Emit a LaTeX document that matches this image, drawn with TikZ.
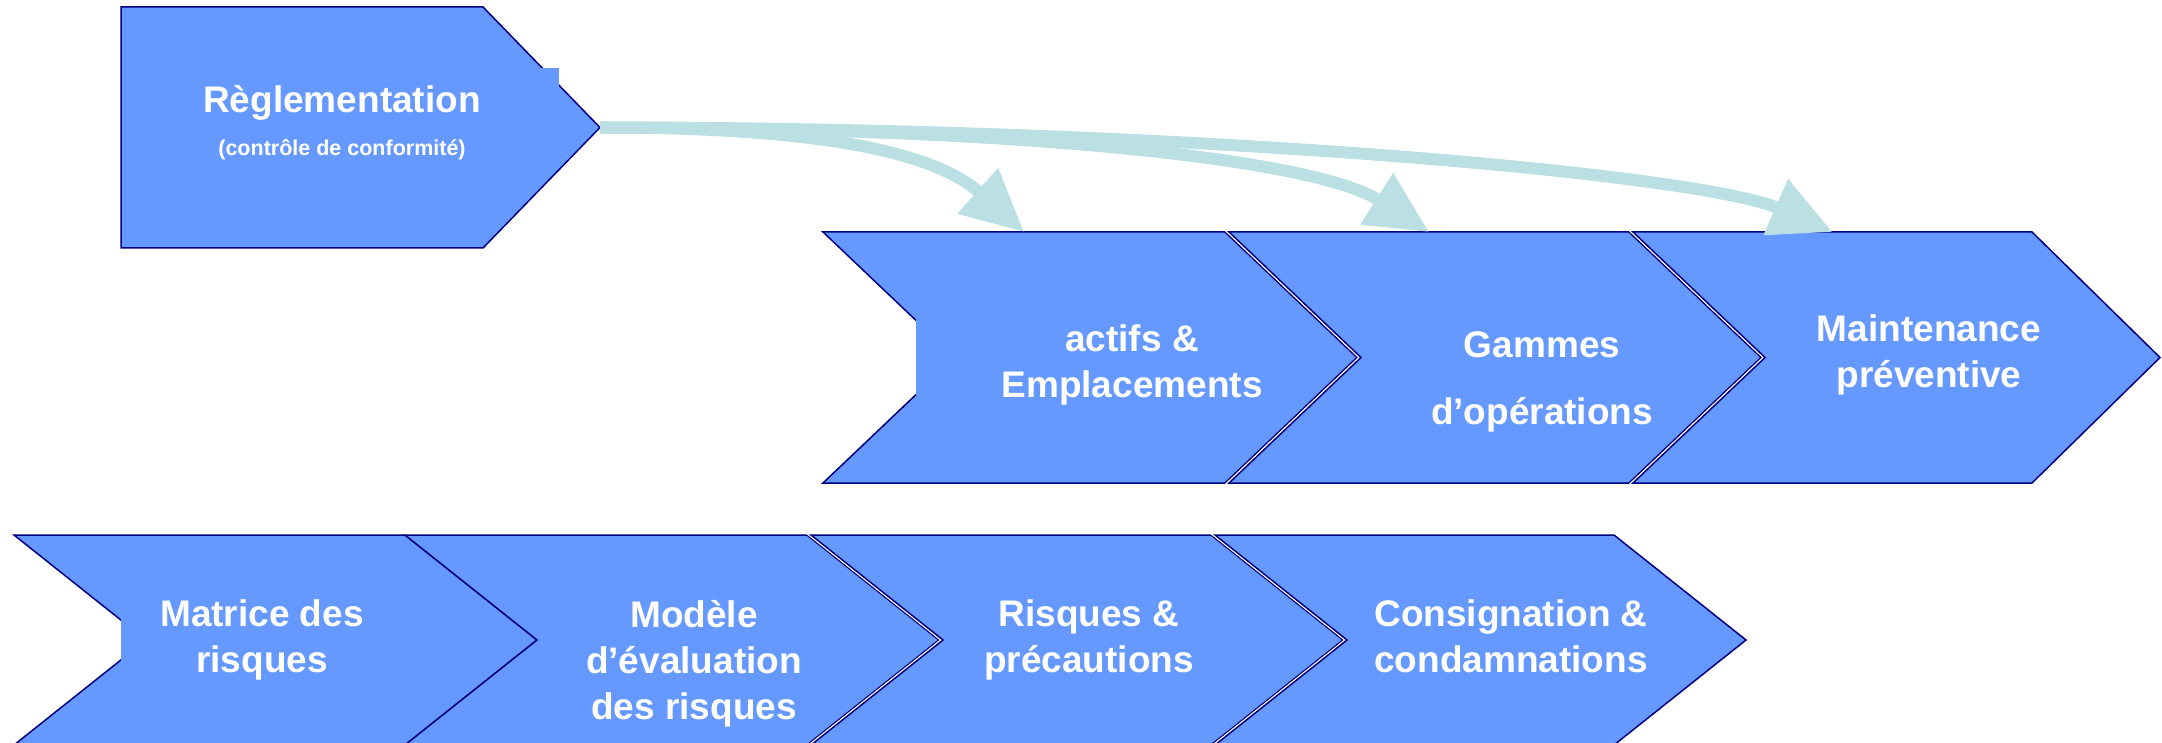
\documentclass[tikz,border=0pt]{standalone}
\usepackage{fontspec}
\setmainfont{Liberation Sans}
\usetikzlibrary{arrows.meta}

\definecolor{chevfill}{RGB}{102,153,255}
\definecolor{chevline}{RGB}{0,0,128}
\definecolor{flowtint}{RGB}{187,224,227}

\begin{document}
\begin{tikzpicture}[x=1pt, y=-1pt,
                    body/.style = {shape=rectangle, inner sep=0pt, outer sep=0pt},
                    chevron/.style = {fill=chevfill, draw=chevline, line width=1.5pt},
                    gapped/.style = {chevron, preaction={draw=white, line width=4pt}},
                    patch/.style = {fill=chevfill},
                    chevtext/.style = {text=white, align=center,
                        font=\bfseries\fontsize{37}{46}\selectfont},
                    notetext/.style = {text=white,
                        font=\bfseries\fontsize{21.5}{26}\selectfont},
                    flow/.style = {draw=flowtint, line width=12pt,
                        -{Triangle[width=58pt,length=62pt]}}]

    \useasboundingbox (0,0) rectangle (2162,743);

    % shape bodies (tips added below)
    \node[body, minimum width=362pt, minimum height=241pt] (regl) at (302,127.5) {};
    \node[body, minimum width=402pt, minimum height=251pt] (actifs) at (1024,357.5) {};
    \node[body, minimum width=400pt, minimum height=251pt] (gammes) at (1429,357.5) {};
    \node[body, minimum width=399pt, minimum height=251pt] (maint) at (1832.5,357.5) {};
    \node[body, minimum width=391pt, minimum height=210pt] (matrice) at (209.5,640) {};
    \node[body, minimum width=402pt, minimum height=210pt] (modele) at (606,640) {};
    \node[body, minimum width=400pt, minimum height=210pt] (risques) at (1011,640) {};
    \node[body, minimum width=399pt, minimum height=210pt] (consign) at (1414.5,640) {};
    \coordinate (regltip) at ([xshift=117pt]regl.east);

    \draw[chevron] (regl.north west) -- (regl.north east) -- (regltip)
        -- (regl.south east) -- (regl.south west) -- cycle;

    \draw[chevron] (actifs.north west) -- (actifs.north east) -- ([xshift=132pt]actifs.east)
        -- (actifs.south east) -- (actifs.south west) -- ([xshift=132pt]actifs.west) -- cycle;
    \draw[gapped] (gammes.north west) -- (gammes.north east) -- ([xshift=132pt]gammes.east)
        -- (gammes.south east) -- (gammes.south west) -- ([xshift=132pt]gammes.west) -- cycle;
    \draw[gapped] (maint.north west) -- (maint.north east) -- ([xshift=128pt]maint.east)
        -- (maint.south east) -- (maint.south west) -- ([xshift=132pt]maint.west) -- cycle;

    \draw[chevron] (matrice.north west) -- (matrice.north east) -- ([xshift=132pt]matrice.east)
        -- (matrice.south east) -- (matrice.south west) -- ([xshift=132pt]matrice.west) -- cycle;
    \draw[chevron] (modele.north west) -- (modele.north east) -- ([xshift=132pt]modele.east)
        -- (modele.south east) -- (modele.south west) -- ([xshift=132pt]modele.west) -- cycle;
    \draw[gapped] (risques.north west) -- (risques.north east) -- ([xshift=132pt]risques.east)
        -- (risques.south east) -- (risques.south west) -- ([xshift=132pt]risques.west) -- cycle;
    \draw[gapped] (consign.north west) -- (consign.north east) -- ([xshift=132pt]consign.east)
        -- (consign.south east) -- (consign.south west) -- ([xshift=132pt]consign.west) -- cycle;

    % text boxes showing over the outlines
    \fill[patch] (125,68) rectangle (559,167);
    \fill[patch] (916,318) rectangle (1300,395);
    \fill[patch] (121,618) rectangle (400,662);

    \node[chevtext, anchor=base] (regltext) at (342,113) {Règlementation};
    \node[notetext, anchor=base] (reglnote) at (342,156) {(contrôle de conformité)};
    \node[chevtext] (actifstext) at (1132,365) {actifs \&\\Emplacements};
    \node[chevtext] (gammestext) at (1542,382) {Gammes\\[21pt]d’opérations};
    \node[chevtext] (mainttext) at (1929,355) {Maintenance\\préventive};
    \node[chevtext] (matricetext) at (262,640) {Matrice des\\risques};
    \node[chevtext] (modeletext) at (694,664) {Modèle\\d’évaluation\\des risques};
    \node[chevtext] (risquestext) at (1089,640) {Risques \&\\précautions};
    \node[chevtext] (consigntext) at (1511,636) {Consignation \&\\condamnations};

    \draw[flow] (regltip) .. controls +(600,0) and +(-130,-57) .. (maint.north);
    \draw[flow] (regltip) .. controls +(450,0) and +(-110,-70) .. (gammes.north);
    \draw[flow] (regltip) .. controls +(220,0) and +(-90,-80) .. (actifs.north);

\end{tikzpicture}
\end{document}
